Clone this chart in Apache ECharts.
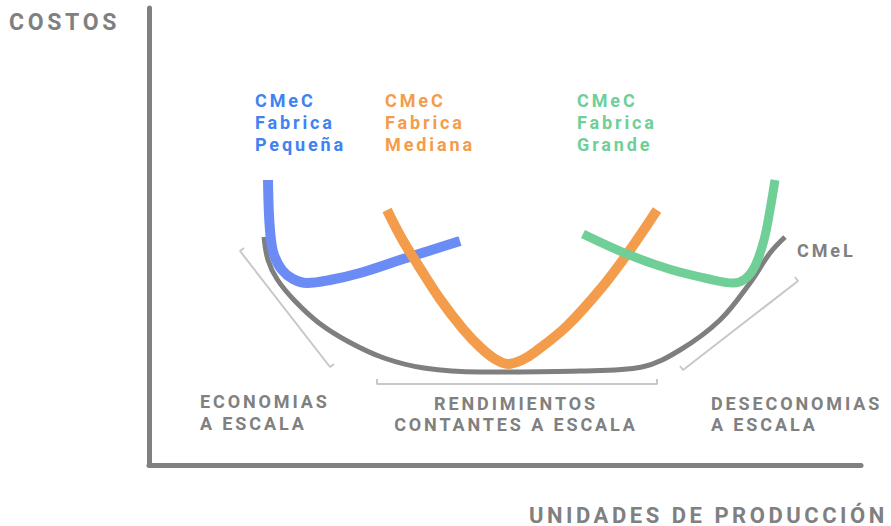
<!DOCTYPE html>
<html>
<head>
<meta charset="utf-8">
<title>Economías de escala</title>
<script src="https://cdn.jsdelivr.net/npm/echarts@6/dist/echarts.min.js"></script>
<style>
  html, body { margin: 0; padding: 0; background: #fff; }
  #chart { width: 891px; height: 526px; }
  /* texto espaciado como en la imagen */
  #chart text { letter-spacing: 0.16em; }
</style>
</head>
<body>
<div id="chart"></div>
<script>
// Curvas de costo medio (x = unidades, y = costo)
const cmecPequena = [[119, 285], [120, 250], [122, 225], [125, 210], [133, 195], [144, 186], [158, 182], [181, 185], [211, 192], [254, 206], [311, 224]];
const cmecMediana = [[238, 255], [253, 226], [269, 200], [291, 166], [314, 136], [331, 118], [346, 106], [359, 101], [373, 105], [386, 113], [418, 139], [454, 179], [481, 215], [508, 255]];
const cmecGrande = [[434, 231], [478, 211], [520, 196], [560, 186], [584, 182], [596, 186], [606, 199], [615, 225], [621, 255], [626, 285]];
const cmel = [[115, 228], [119, 205], [128, 186], [145, 165], [170, 142], [200, 123], [235, 107], [275, 97], [331, 93], [431, 94], [493, 98], [531, 115], [571, 145], [601, 182], [621, 212], [636, 228]];

// Corchetes de las zonas
const zonaEconomias = [[95, 217], [91, 214], [181, 98], [185, 101]];
const zonaConstantes = [[228, 86], [228, 81], [508, 81], [508, 86]];
const zonaDeseconomias = [[531, 99], [534, 95], [649, 184], [646, 188]];

const xMax = 712;
const yMax = 457;

const gris = '#808080';
const font18 = 'bold 18px Roboto';

const chart = echarts.init(document.getElementById('chart'), null, { renderer: 'svg' });

function curva(name, data, color, width) {
    return {
        name: name,
        type: 'line',
        data: data,
        smooth: 0.35,
        showSymbol: false,
        silent: true,
        lineStyle: { color: color, width: width, cap: 'butt', join: 'round' }
    };
}

function corchete(data) {
    return {
        type: 'line',
        data: data,
        showSymbol: false,
        silent: true,
        lineStyle: { color: '#c8c8c8', width: 2 }
    };
}

function texto(x, y, text, color, font, lineHeight, align) {
    return {
        type: 'text',
        x: x,
        y: y,
        silent: true,
        style: {
            text: text,
            fill: color,
            font: font,
            lineHeight: lineHeight || 22,
            textAlign: align || 'left',
            textVerticalAlign: 'middle'
        }
    };
}

const option = {
    animation: false,
    grid: { left: 149, right: 30, top: 8, bottom: 61 },
    xAxis: {
        type: 'value',
        min: 0,
        max: xMax,
        axisLine: { show: true, lineStyle: { color: gris, width: 5 } },
        axisTick: { show: false },
        axisLabel: { show: false },
        splitLine: { show: false }
    },
    yAxis: {
        type: 'value',
        min: 0,
        max: yMax,
        axisLine: { show: true, lineStyle: { color: gris, width: 5 } },
        axisTick: { show: false },
        axisLabel: { show: false },
        splitLine: { show: false }
    },
    series: [
        corchete(zonaEconomias),
        corchete(zonaConstantes),
        corchete(zonaDeseconomias),
        curva('CMeL', cmel, '#7f7f7f', 5),
        curva('CMeC Fabrica Pequeña', cmecPequena, '#6b8cf5', 10),
        curva('CMeC Fabrica Mediana', cmecMediana, '#f39c4b', 10),
        curva('CMeC Fabrica Grande', cmecGrande, '#6fcf97', 9)
    ],
    graphic: [
        texto(9, 22, 'COSTOS', gris, 'bold 23px Roboto'),
        texto(529, 515, 'UNIDADES DE PRODUCCIÓN', gris, 'bold 22px Roboto'),
        texto(255, 122, 'CMeC\nFabrica\nPequeña', '#3f82f2', font18),
        texto(385, 122, 'CMeC\nFabrica\nMediana', '#f39c4b', font18),
        texto(577, 122, 'CMeC\nFabrica\nGrande', '#6fcf97', font18),
        texto(797, 250, 'CMeL', gris, font18),
        texto(200, 412, 'ECONOMIAS\nA ESCALA', gris, font18),
        texto(516, 414, 'RENDIMIENTOS\nCONTANTES A ESCALA', gris, font18, 21, 'center'),
        texto(711, 414, 'DESECONOMIAS\nA ESCALA', gris, font18, 21)
    ]
};

chart.setOption(option);

window.addEventListener('resize', function() {
    chart.resize();
});
</script>
</body>
</html>
